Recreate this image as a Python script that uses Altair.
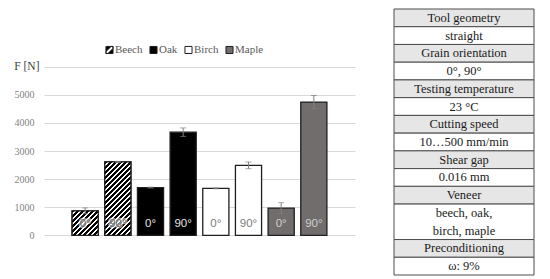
import altair as alt
import pandas as pd

# ---- data ----
materials = ["Beech", "Beech", "Oak", "Oak", "Birch", "Birch", "Maple", "Maple"]
angles = ["0°", "90°", "0°", "90°", "0°", "90°", "0°", "90°"]
force = [870, 2610, 1700, 3670, 1670, 2490, 970, 4740]
error = [105, 20, 15, 150, 15, 120, 190, 235]

legend_items = ["Beech", "Oak", "Birch", "Maple"]
legend_fill = ["black", "black", "white", "#716d6d"]
label_colors = ["#6e6e6e", "#e6e6e6", "#7a7a7a", "#cfcfcf"]

table_text = ["Tool geometry", "straight", "Grain orientation", "0°, 90°",
              "Testing temperature", "23 °C", "Cutting speed", "10…500 mm/min",
              "Shear gap", "0.016 mm", "Veneer", "beech, oak,\nbirch, maple",
              "Preconditioning", "ω: 9%"]
table_kind = ["h", "v"] * 7
table_units = [1, 1, 1, 1, 1, 1, 1, 1, 1, 1, 1, 2, 1, 1]

# ---- layout ----
W = 311
H_AXIS = 168.6          # pixel height of 0..6000
HEADROOM = 57.7         # empty space above the 6000 line (legend lives there)
H = H_AXIS + HEADROOM
Y_MAX = 6000
Y_TOP = Y_MAX * H / H_AXIS
P_IN, P_OUT = 0.2, 0.86
TW, TH = 140, 266

df = pd.DataFrame({"material": materials, "angle": angles, "force": force, "err": error})
df["key"] = df["material"] + " " + df["angle"]
keys = list(df["key"])


def hatch(value, period=5.0, frac=0.5):
    step = W / (len(keys) - P_IN + 2 * P_OUT)
    w = step * (1 - P_IN)
    h = value / Y_TOP * H
    s = (w + h) / (w * w + h * h)
    L = w + h
    stops = []
    k = 0
    while k * period < L:
        a = min(k * period / L, 1)
        b = min((k + frac) * period / L, 1)
        c = min((k + 1) * period / L, 1)
        stops += [{"offset": a, "color": "black"}, {"offset": b, "color": "black"},
                  {"offset": b, "color": "white"}, {"offset": c, "color": "white"}]
        k += 1
    return {"gradient": "linear", "stops": stops, "x1": 0, "y1": 0, "x2": w * s, "y2": h * s}


x_enc = alt.X("key:N", sort=keys, axis=None,
              scale=alt.Scale(paddingInner=P_IN, paddingOuter=P_OUT))
y_scale = alt.Scale(domain=[0, Y_TOP], nice=False)
y_axis = alt.Axis(values=[0, 1000, 2000, 3000, 4000, 5000, 6000], format="d",
                  labelExpr="datum.value == 6000 ? 'F [N]' : datum.label",
                  labelFont="Liberation Serif",
                  labelFontSize=alt.condition("datum.value == 6000", alt.value(11.5), alt.value(10)),
                  labelColor=alt.condition("datum.value == 6000", alt.value("#404040"), alt.value("#7f7f7f")),
                  labelPadding=alt.condition("datum.value == 6000", alt.value(5), alt.value(10)),
                  grid=True, gridColor="#d9d9d9", gridWidth=1,
                  domain=False, ticks=False, title=None)
y_enc = alt.Y("force:Q", scale=y_scale, axis=y_axis)

hatch_path = "M-1,-1H1V1H-1Z M-1,1L-0.45,1L1,-0.45L1,-1L0.45,-1L-1,0.45Z"
legend_shapes = [hatch_path, "square", "square", "square"]
legend_strokes = ["#1f1f1f"] * 4

leg = alt.Legend(orient="none", legendX=60, legendY=35, direction="horizontal", title=None,
                 symbolSize=50, symbolStrokeWidth=1, symbolOpacity=1,
                 labelFont="Liberation Serif", labelFontSize=11,
                 labelColor="#595959", columnPadding=4, labelOffset=0)
fill_scale = alt.Scale(domain=legend_items, range=legend_fill)

base = alt.Chart(df)

# hidden key points (behind the bars) carry the shape/stroke channels for the legend
keypts = base.transform_calculate(half="datum.force / 2").mark_point(
    filled=True, size=1, opacity=1, strokeWidth=1).encode(
    x=x_enc, y=alt.Y("half:Q", scale=y_scale, axis=y_axis),
    fill=alt.Fill("material:N", scale=fill_scale, legend=leg),
    stroke=alt.Stroke("material:N", scale=alt.Scale(domain=legend_items, range=legend_strokes), legend=leg),
    shape=alt.Shape("material:N", scale=alt.Scale(domain=legend_items, range=legend_shapes), legend=leg))

bars = base.mark_bar(stroke="#1f1f1f", strokeWidth=1.3).encode(
    x=x_enc, y=y_enc,
    fill=alt.Fill("material:N", scale=fill_scale, legend=leg))

layers = [keypts, bars]
for i, k in enumerate(keys):
    if materials[i] == "Beech":
        layers.append(
            base.transform_filter(alt.datum.key == k)
            .mark_bar(fill=hatch(force[i]), stroke="#1f1f1f", strokeWidth=1.3)
            .encode(x=x_enc, y=y_enc)
        )

err_base = base.transform_calculate(lo="datum.force - datum.err", hi="datum.force + datum.err")
rule = err_base.mark_rule(color="#808080", strokeWidth=1).encode(
    x=x_enc, y=alt.Y("lo:Q", scale=y_scale, axis=y_axis), y2="hi:Q")
tick_lo = err_base.mark_tick(color="#808080", size=6, thickness=1).encode(
    x=x_enc, y=alt.Y("lo:Q", scale=y_scale, axis=y_axis))
tick_hi = err_base.mark_tick(color="#808080", size=6, thickness=1).encode(
    x=x_enc, y=alt.Y("hi:Q", scale=y_scale, axis=y_axis))

halo = base.transform_filter(alt.datum.material == "Beech").mark_text(
    font="Liberation Sans", fontSize=11.5, dy=-11, stroke="white", strokeWidth=3,
    strokeOpacity=0.6, fillOpacity=0).encode(
    x=x_enc, y=alt.YDatum(0, scale=y_scale, axis=y_axis), text="angle:N")

labels = base.mark_text(font="Liberation Sans", fontSize=11.5, dy=-11).encode(
    x=x_enc, y=alt.YDatum(0, scale=y_scale, axis=y_axis), text="angle:N",
    color=alt.Color("material:N", scale=alt.Scale(domain=legend_items, range=label_colors), legend=None))

left = alt.layer(*layers, rule, tick_lo, tick_hi, halo, labels).properties(width=W, height=H)

# ---- table ----
tdf = pd.DataFrame({"text": table_text, "kind": table_kind, "units": table_units})
tdf["end"] = tdf["units"].cumsum()
tdf["start"] = tdf["end"] - tdf["units"]
tdf["first"] = tdf["start"] + 0.5     # centre of the first text line of each cell
total = int(tdf["end"].max())

tx = alt.Scale(domain=[0, 1])
ty = alt.Scale(domain=[0, total], reverse=True)
tbase = alt.Chart(tdf).transform_calculate(l="0", r="1", c="0.5")

cells = tbase.mark_rect(stroke="#4d4d4d", strokeWidth=1).encode(
    x=alt.X("l:Q", scale=tx, axis=None), x2="r:Q",
    y=alt.Y("start:Q", scale=ty, axis=None), y2="end:Q",
    fill=alt.condition("datum.kind == 'h'", alt.value("#e7e6e6"), alt.value("white")))

ttext = tbase.mark_text(font="Liberation Serif", fontSize=12.5, color="#1a1a1a",
                        lineBreak="\n", lineHeight=17.7, baseline="middle").encode(
    x=alt.X("c:Q", scale=tx, axis=None),
    y=alt.Y("first:Q", scale=ty, axis=None),
    text="text:N")

table = alt.layer(cells, ttext).properties(width=TW, height=TH)

chart = alt.hconcat(left, table, spacing=38).configure_view(stroke=None).properties(
    padding={"left": 5, "top": 0, "right": 0, "bottom": 0})

chart.save("out.html", embed_options={"renderer": "svg", "actions": False})
